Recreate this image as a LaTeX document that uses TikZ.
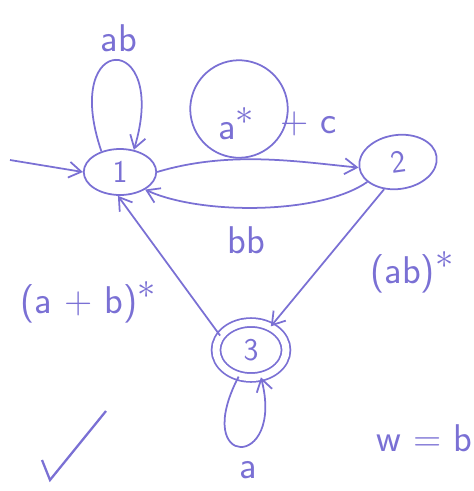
\documentclass[tikz,border=0pt]{standalone}
\usepackage{tikz}
\usetikzlibrary{arrows.meta,calc,positioning,shapes.geometric}
\definecolor{ink}{HTML}{7A70D4}

\begin{document}
\begin{tikzpicture}[x=0.02cm,y=-0.02cm,>={Straight Barb[length=7pt,width=9pt]},color=ink,line width=1pt]
      \tikzstyle{statebox}=[draw=ink,ellipse,minimum width=1.45cm,minimum height=0.92cm,inner sep=0pt]
      \tikzstyle{statename}=[font=\sffamily\fontsize{18}{20}\selectfont]
      \tikzstyle{edgelabel}=[font=\sffamily\fontsize{22}{26}\selectfont,text=ink,inner sep=1pt]
      \useasboundingbox (0,0) rectangle (474,491);
      \clip (0,0) rectangle (474,491);
      % states
      \node[statebox,statename] (one) at (120,172) {1};
      \node[statebox,statename,minimum width=1.56cm,minimum height=1.08cm,rotate=8] (two) at (398,162) {2};
      \node[statebox,statename,double,double distance=4pt,minimum width=1.4cm,minimum height=1.1cm] (three) at (251,350) {3};
      \coordinate (start) at (10,160);
      % initial arrow
      \draw[->] (start) -- (one.west);
      % loop on 1
      \draw[->] (one.132) .. controls (60,30) and (170,30) .. (one.58);
      \node[edgelabel] (lab11) at (119,38) {ab};
      % 1 to 2
      \draw[->] (one.east) .. controls (230,150) and (300,162) .. (two.west);
      \node[edgelabel] (lab12) at (236,124) {a\raisebox{0.9ex}{$*$}};
      \node[draw=ink,ellipse,minimum width=1.95cm,minimum height=1.95cm,rotate=-10] (ring) at (239,109) {};
      \node[edgelabel,right=12pt of lab12] (lab12b) {+ c};
      % 2 to 1
      \draw[->] (two.205) .. controls (320,215) and (200,215) .. (one.-35);
      \node[edgelabel] (lab21) at (246,240) {bb};
      % 2 to 3
      \draw[->] (two.235) -- (three.50);
      \node[edgelabel] (lab23) at (412,272) {(ab)\raisebox{0.9ex}{$*$}};
      % 3 to 1
      \draw[->] (three.155) -- (one.-95);
      \node[edgelabel] (lab31) at (88,302) {(a + b)\raisebox{0.9ex}{$*$}};
      % loop on 3
      \draw[->] (three.-115) .. controls (190,470) and (285,470) .. (three.-70);
      \node[edgelabel] (lab33) at (248,470) {a};
      % notes
      \node[edgelabel,anchor=west] (note) at (374,438) {w = b};
      \draw[line width=1.3pt] (42,460) -- (50,480) -- (106,411);
    \end{tikzpicture}
\end{document}
